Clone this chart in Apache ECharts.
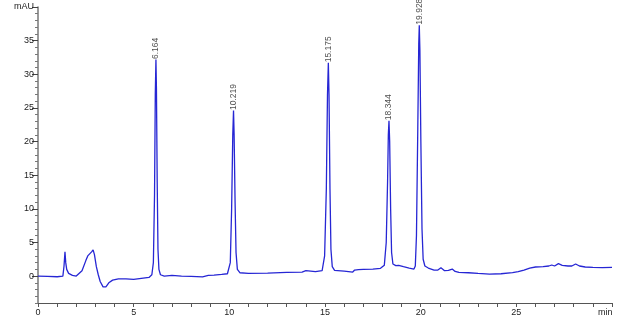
<!DOCTYPE html>
<html>
<head>
<meta charset="utf-8">
<script src="https://cdn.jsdelivr.net/npm/echarts@6/dist/echarts.min.js"></script>
<style>
html,body{margin:0;padding:0;background:#fff;}
#chart{width:636px;height:325px;}
</style>
</head>
<body>
<div id="chart"></div>
<script>
// Retention time (min) and detector signal (mAU)
const time = [0,0.5,1.0,1.3,1.36,1.41,1.45,1.5,1.6,1.8,2.0,2.1,2.3,2.5,2.6,2.7,2.8,2.88,2.95,3.05,3.15,3.25,3.4,3.47,3.55,3.7,3.9,4.2,4.6,5.0,5.4,5.8,5.95,6.03,6.09,6.13,6.164,6.19,6.23,6.27,6.32,6.4,6.6,7.0,7.5,8.0,8.6,8.9,9.2,9.6,9.9,10.05,10.12,10.18,10.219,10.25,10.3,10.35,10.42,10.55,11,12,13,13.8,14.0,14.1,14.5,14.85,14.98,15.07,15.13,15.175,15.21,15.26,15.31,15.38,15.5,16,16.45,16.55,16.75,17,17.5,17.9,18.1,18.2,18.27,18.31,18.344,18.38,18.43,18.48,18.55,18.7,18.85,19.1,19.4,19.65,19.72,19.78,19.85,19.9,19.928,19.96,20.01,20.07,20.13,20.22,20.4,20.7,20.9,21.06,21.25,21.45,21.65,21.8,22,22.5,23,23.6,24.2,24.8,25.1,25.4,25.7,26.0,26.4,26.7,26.85,27.0,27.2,27.4,27.7,27.9,28.1,28.3,28.6,29,29.5,30];
const signal = [0,-0.05,-0.1,0,1.5,3.6,2.0,1.0,0.4,0.1,0.0,0.1,0.8,2.3,3.0,3.3,3.6,3.9,3.2,1.4,0.2,-0.8,-1.6,-1.85,-1.6,-1.0,-0.6,-0.4,-0.4,-0.5,-0.35,-0.2,0.2,2,12,27,32.2,28,14,4,1.0,0.2,0.0,0.1,0,-0.05,-0.12,0.1,0.15,0.25,0.35,2,10,21,24.6,21,11,3.5,1.0,0.5,0.4,0.45,0.55,0.6,0.8,0.65,0.65,0.8,3,13,27,31.7,27,13,4,1.4,0.85,0.75,0.6,0.9,0.95,1.0,1.05,1.15,1.6,5,14,21,23.1,20,10,3.5,1.8,1.55,1.6,1.4,1.2,1.05,1.5,6,22,34.5,37.3,33.5,20,7,2.5,1.5,1.2,0.9,0.9,1.25,0.8,0.85,1.05,0.7,0.55,0.5,0.4,0.3,0.35,0.5,0.65,0.9,1.2,1.35,1.4,1.5,1.65,1.5,1.85,1.6,1.5,1.5,1.8,1.5,1.35,1.3,1.25,1.3];

// Peak annotations
const peakTimes = [6.164, 10.219, 15.175, 18.344, 19.928];
const peakHeights = [32.2, 24.6, 31.7, 23.1, 37.3];
const peakLabels = ['6.164', '10.219', '15.175', '18.344', '19.928'];

// Axis ticks and labels
const xMajor = [0, 5, 10, 15, 20, 25];
const xUnitLabel = 'min';
const yMajor = [0, 5, 10, 15, 20, 25, 30, 35, 40];
const yUnitLabel = 'mAU';

const xMinorTicks = [];
for (let i = 0; i <= 30; i++) xMinorTicks.push(i);
const yMinorTicks = [];
for (let i = -4; i <= 40; i++) yMinorTicks.push(i);

const lineData = time.map((t, i) => [t, signal[i]]);
const peakData = peakTimes.map((t, i) => ({ value: [t, peakHeights[i]], name: peakLabels[i] }));

const chart = echarts.init(document.getElementById('chart'), null, { renderer: 'canvas' });
const axisColor = '#555';
const labelFont = { fontFamily: 'Liberation Sans, Arial, sans-serif', fontSize: 9, color: '#222' };

chart.setOption({
  animation: false,
  backgroundColor: '#fff',
  grid: { left: 38, right: 24, top: 7, bottom: 22, containLabel: false },
  xAxis: {
    type: 'value', min: 0, max: 30,
    axisLine: { show: true, onZero: false, lineStyle: { color: axisColor, width: 1.2 } },
    axisTick: { show: true, customValues: xMinorTicks, length: 4, lineStyle: { color: axisColor } },
    axisLabel: Object.assign({
      customValues: xMajor.concat([29.65]), margin: 5,
      formatter: v => (v > 29 ? xUnitLabel : String(v))
    }, labelFont),
    splitLine: { show: false }
  },
  yAxis: [{
    type: 'value', min: -4, max: 40,
    axisLine: { show: true, onZero: false, lineStyle: { color: '#777', width: 1.5 } },
    axisTick: { show: true, customValues: yMinorTicks, length: 3, lineStyle: { color: '#777' } },
    axisLabel: Object.assign({
      customValues: yMajor, margin: 4,
      formatter: v => (v === 40 ? yUnitLabel : String(v))
    }, labelFont),
    splitLine: { show: false }
  }, {
    type: 'value', min: -4, max: 40, position: 'left',
    axisLine: { show: false },
    axisTick: { show: true, customValues: yMajor, length: 6, lineStyle: { color: '#444' } },
    axisLabel: { show: false },
    splitLine: { show: false }
  }],
  series: [{
    type: 'line',
    data: lineData,
    showSymbol: false,
    smooth: false,
    lineStyle: { color: '#2626d4', width: 1.3 },
    z: 2
  }, {
    type: 'scatter',
    data: peakData,
    symbolSize: 1,
    itemStyle: { color: 'rgba(0,0,0,0)' },
    label: {
      show: true,
      formatter: p => p.name,
      position: 'top',
      distance: 0,
      rotate: 90,
      align: 'left',
      verticalAlign: 'middle',
      fontFamily: 'Liberation Sans, Arial, sans-serif',
      fontSize: 8.5,
      color: '#222'
    },
    z: 3
  }]
});
</script>
</body>
</html>
